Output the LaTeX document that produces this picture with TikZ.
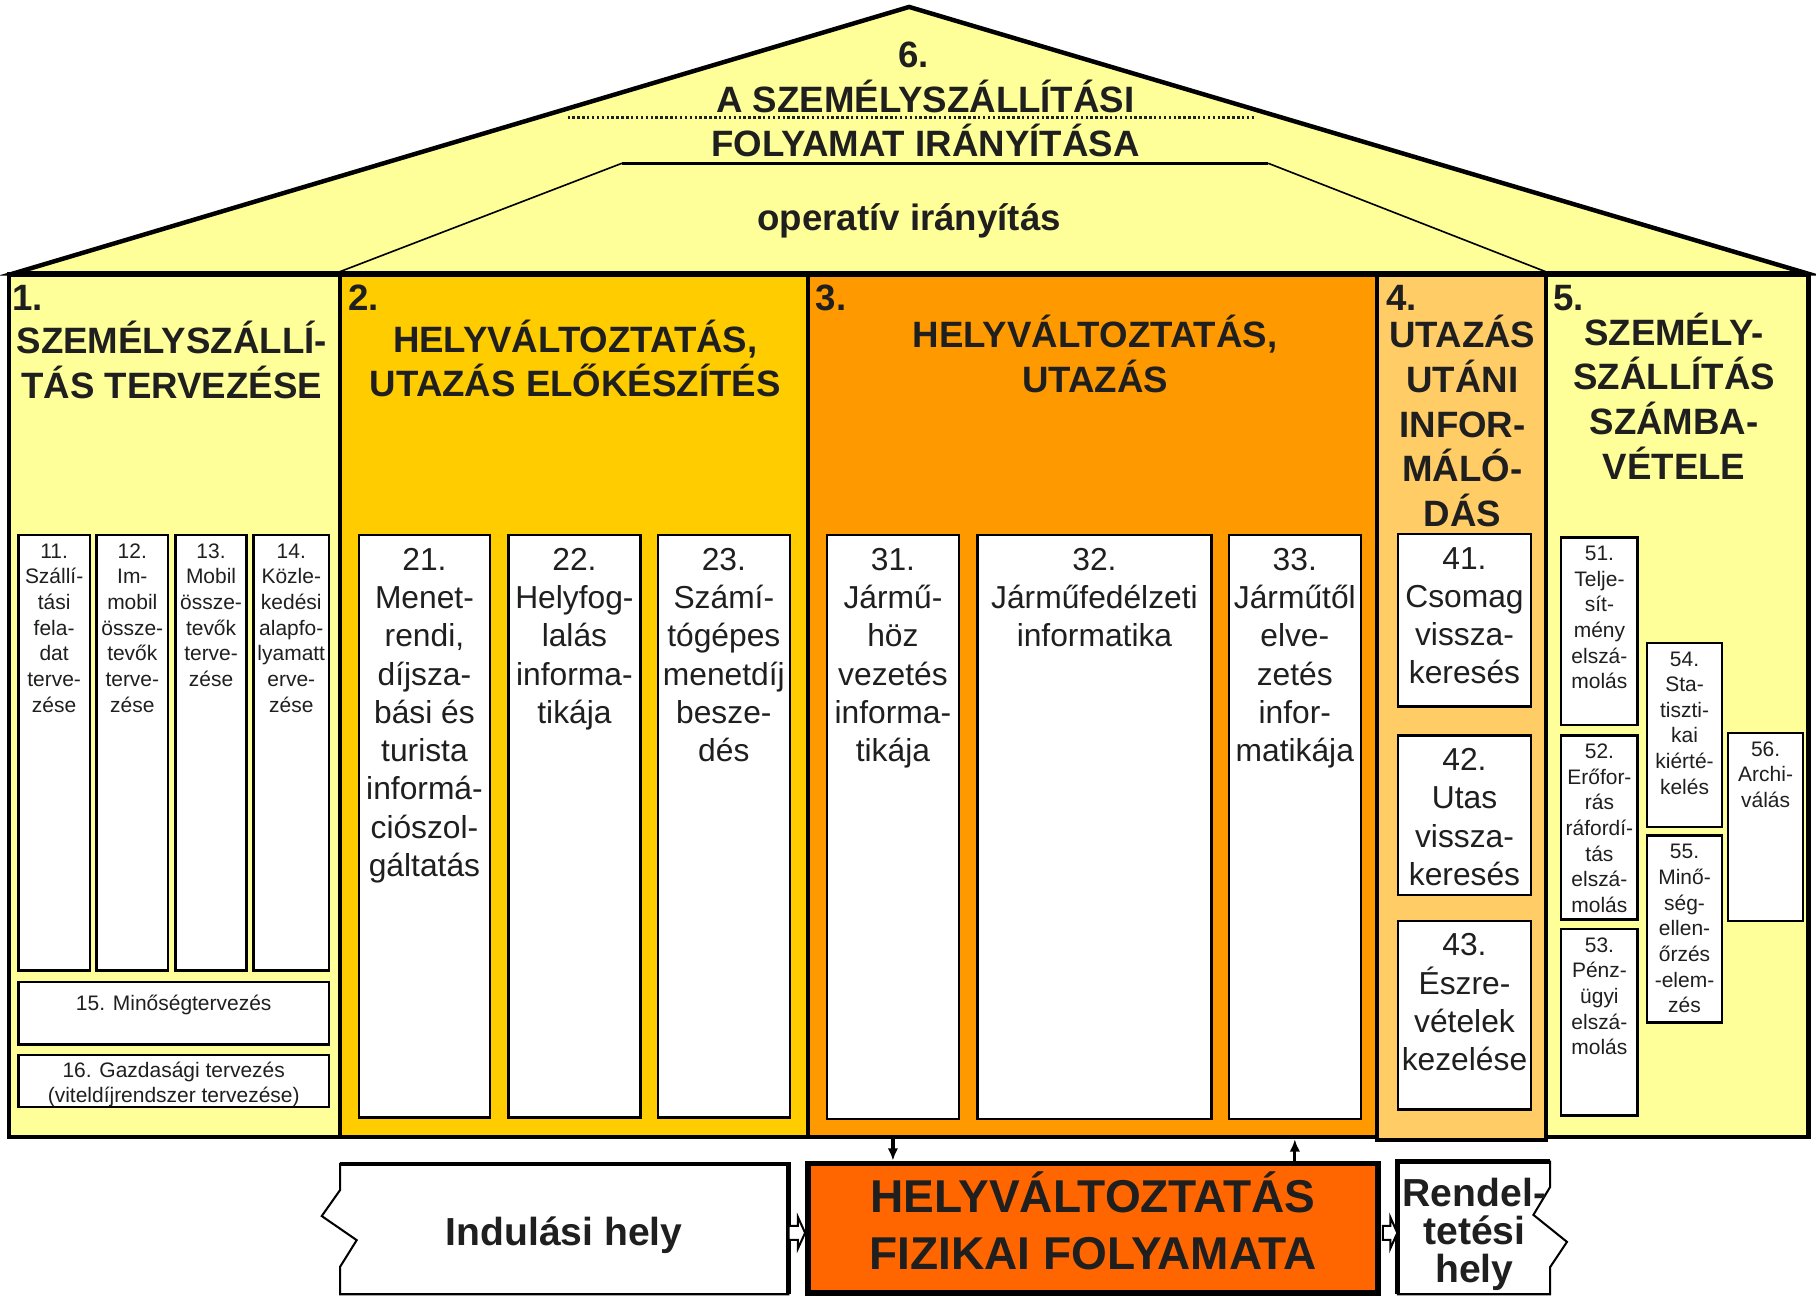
\documentclass[tikz,border=0pt]{standalone}
\usepackage{fontspec}
\setmainfont{Liberation Sans}
\usetikzlibrary{calc,fit,arrows.meta,positioning}

\definecolor{lightyel}{HTML}{FFFF99}
\definecolor{gold}{HTML}{FFCC00}
\definecolor{orng}{HTML}{FF9900}
\definecolor{peach}{HTML}{FFCC66}
\definecolor{redorng}{HTML}{FF6600}
\definecolor{ink}{HTML}{1F1F1F}

\newcommand{\hd}{\rule{0pt}{1em}}

\tikzset{
  col/.style={draw=black, line width=1pt, inner sep=0pt},
  sbox/.style={draw=black, fill=white, line width=0.6pt, inner sep=0pt},
  stxt/.style={font=\fontsize{5.15}{6.3}\selectfont, align=center, anchor=north, inner sep=0pt, text=ink},
  btxt/.style={font=\fontsize{7.8}{9.4}\selectfont, align=center, anchor=north, inner sep=0pt, text=ink},
  head/.style={font=\fontsize{9}{11}\selectfont\bfseries, align=center, anchor=north, inner sep=0pt, text=ink},
  num/.style={head, anchor=base west},
  place/.style={font=\fontsize{9.6}{9.4}\selectfont\bfseries, align=center, anchor=north, inner sep=0pt, text=ink},
  harr/.style={draw=black, fill=white, line width=0.5pt},
  arr/.style={line width=0.8pt, -{Latex[length=3pt,width=2.6pt]}}
}

\begin{document}
\begin{tikzpicture}[x=0.01cm, y=-0.01cm]
\useasboundingbox (0,0) rectangle (1568,1119);

\filldraw[fill=lightyel, line width=1.1pt] (12,236) -- (785,6) -- (1560,236) -- cycle;

\node[col, fill=lightyel, fit={(8,237) (293.5,982)}] (c1) {};
\node[col, fill=gold, fit={(293.5,237) (698,982)}] (c2) {};
\node[col, fill=orng, fit={(698,237) (1189,982)}] (c3) {};
\node[col, fill=peach, fit={(1189,237) (1334.5,984)}] (c4) {};
\node[col, fill=lightyel, fit={(1334.5,237) (1561.5,982)}] (c5) {};

\draw[line width=0.4pt] (c2.north west) -- (537,141) (1095,141) -- (c4.north east);
\draw[line width=0.7pt] (537,141) -- (1095,141);

\node[head, anchor=base] (n6) at (789,58) {6.};
\node[head] (ttl) at (799,64.4) {\hd A SZEMÉLYSZÁLLÍTÁSI\\FOLYAMAT IRÁNYÍTÁSA};
\draw[ink, line width=0.6pt, dash pattern=on 0.6pt off 0.6pt] (490,101.5) -- (1083,101.5);
\node[head, anchor=base] (op) at (785,199) {operatív irányítás};

\node[num] (n1) at ($(c1.north west)+(3.5,33)$) {1.};
\node[head] (h1) at ($(c1.north)+(-2.5,37.4)$) {\hd SZEMÉLYSZÁLLÍ-\\TÁS TERVEZÉSE};
\node[num] (n2) at ($(c2.north west)+(8.5,33)$) {2.};
\node[head] (h2) at ($(c2.north)+(1,36.4)$) {\hd HELYVÁLTOZTATÁS,\\UTAZÁS ELŐKÉSZÍTÉS};
\node[num] (n3) at ($(c3.north west)+(7.5,33)$) {3.};
\node[head] (h3) at ($(c3.north)+(2,32.4)$) {\hd HELYVÁLTOZTATÁS,\\UTAZÁS};
\node[num] (n4) at ($(c4.north west)+(9,33)$) {4.};
\node[head] (h4) at ($(c4.north)+(1,32.4)$) {\hd UTAZÁS\\UTÁNI\\INFOR-\\MÁLÓ-\\DÁS};
\node[num] (n5) at ($(c5.north west)+(8,33)$) {5.};
\node[head] (h5) at ($(c5.north)+(-2.5,30.4)$) {\hd SZEMÉLY-\\SZÁLLÍTÁS\\SZÁMBA-\\VÉTELE};

\foreach \n/\xa/\ya/\xb/\yb/\txt in {
  11/16/462/77.5/838/{11.\\Szállí-\\tási\\fela-\\dat\\terve-\\zése},
  12/83.5/462/145/838/{12.\\Im-\\mobil\\össze-\\tevők\\terve-\\zése},
  13/151.5/462/213/838/{13.\\Mobil\\össze-\\tevők\\terve-\\zése},
  14/219/462/284/838/{14.\\Közle-\\kedési\\alapfo-\\lyamatt\\erve-\\zése},
  51/1348/464/1414/626/{51.\\Telje-\\sít-\\mény\\elszá-\\molás},
  52/1348/635/1414/794/{52.\\Erőfor-\\rás\\ráfordí-\\tás\\elszá-\\molás},
  53/1348/802/1414/963/{53.\\Pénz-\\ügyi\\elszá-\\molás},
  54/1422/555/1487/714/{54.\\Sta-\\tiszti-\\kai\\kiérté-\\kelés},
  55/1422/721.5/1487/883/{55.\\Minő-\\ség-\\ellen-\\őrzés\\-elem-\\zés},
  56/1492/633/1557/795/{56.\\Archi-\\válás}} {
  \node[sbox, fit={(\xa,\ya) (\xb,\yb)}] (b\n) {};
  \node[stxt] (t\n) at ($(b\n.north)+(0,2.3)$) {\hd\txt};
}

\node[sbox, fit={(16,848) (284,902)}] (b15) {};
\node[stxt, anchor=base] (t15) at ($(b15.north)+(0,25.5)$) {15. Minőségtervezés};
\node[sbox, fit={(16,911) (284,956)}] (b16) {};
\node[stxt] (t16) at ($(b16.north)+(0,1.4)$) {\hd 16. Gazdasági tervezés\\(viteldíjrendszer tervezése)};

\foreach \n/\xa/\ya/\xb/\yb/\txt in {
  21/310/462/423/965/{21.\\Menet-\\rendi,\\díjsza-\\bási és\\turista\\informá-\\ciószol-\\gáltatás},
  22/439/462/553/965/{22.\\Helyfog-\\lalás\\informa-\\tikája},
  23/568/462/682/965/{23.\\Számí-\\tógépes\\menetdíj\\besze-\\dés},
  31/714/462/828/966/{31.\\Jármű-\\höz\\vezetés\\informa-\\tikája},
  32/844/462/1046/966/{32.\\Járműfedélzeti\\informatika},
  33/1061/462/1175/966/{33.\\Járműtől\\elve-\\zetés\\infor-\\matikája},
  41/1207/461/1322/610/{41.\\Csomag\\vissza-\\keresés},
  42/1207/635/1322/773/{42.\\Utas\\vissza-\\keresés},
  43/1207/795/1322/958/{43.\\Észre-\\vételek\\kezelése}} {
  \node[sbox, fit={(\xa,\ya) (\xb,\yb)}] (b\n) {};
  \node[btxt] (t\n) at ($(b\n.north)+(0,3.3)$) {\hd\txt};
}

\filldraw[fill=white, line width=0.5pt] (293.6,1005) -- (680.6,1005) -- (680.6,1117.5) -- (293.6,1117.5) -- (293.6,1093.9) -- (308,1070.8) -- (277.8,1050) -- (293.6,1027.6) -- cycle;
\draw[line width=1.2pt] (293.6,1005) -- (680.6,1005) -- (680.6,1117.5);
\node[place, anchor=base] (ind) at (487,1075) {Indulási hely};
\coordinate (indR) at (681,1064.5);

\node[fill=redorng, draw=black, line width=1.4pt, inner sep=0pt, fit={(697.6,1004.5) (1190,1116.5)}] (phys) {};
\node[head, font=\fontsize{11.3}{13.9}\selectfont\bfseries] (pht) at ($(phys.north)+(0,4.8)$) {\hd HELYVÁLTOZTATÁS\\FIZIKAI FOLYAMATA};

\filldraw[fill=white, line width=0.5pt] (1207,1003) -- (1338.5,1003) -- (1338.5,1024.8) -- (1324,1049) -- (1353,1072.3) -- (1338.5,1094) -- (1338.5,1117.5) -- (1207,1117.5) -- cycle;
\draw[line width=1.2pt] (1207,1117.5) -- (1207,1003) -- (1338.5,1003);
\node[place] (ren) at (1273,1006.9) {\hd Rendel-\\tetési\\hely};
\coordinate (renL) at (1206.5,1064.5);

\draw[harr] ($(indR)+(0,-6)$) -- ++(8,0) -- ++(0,-7.5) -- (phys.west |- indR) -- ($(indR)+(8,13.5)$) -- ++(0,-7.5) -- ++(-8,0) -- cycle;
\draw[harr] ($(phys.east |- renL)+(1.5,-6)$) -- ++(6.5,0) -- ++(0,-7.5) -- (renL) -- ($(phys.east |- renL)+(8,13.5)$) -- ++(0,-7.5) -- ++(-6.5,0) -- cycle;

\draw[arr] (b31 |- c3.south) -- (b31 |- phys.north);
\draw[arr, xshift=1.1pt] (b33 |- phys.north) -- (b33 |- c3.south);
\end{tikzpicture}
\end{document}
